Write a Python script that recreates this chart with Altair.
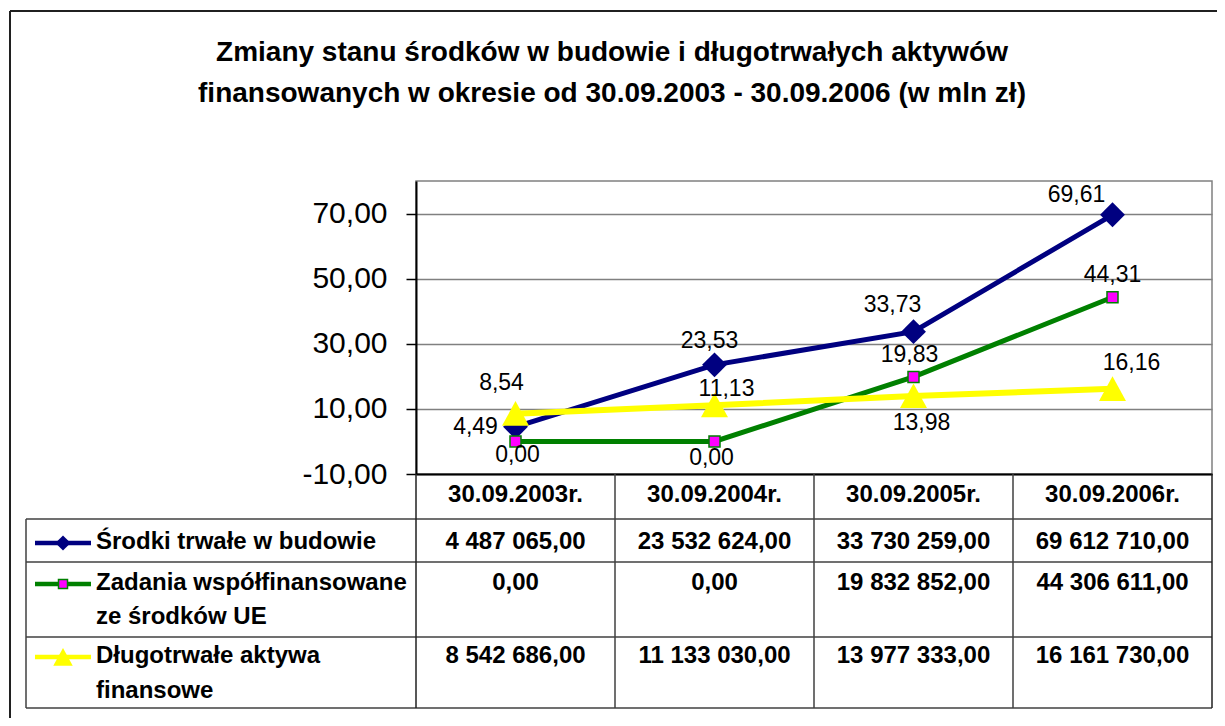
import altair as alt
import pandas as pd

# ---------------- data ----------------
title_lines = [
    "Zmiany stanu środków w budowie i długotrwałych aktywów",
    "finansowanych w okresie od 30.09.2003 - 30.09.2006 (w mln zł)",
]
dates = ["30.09.2003r.", "30.09.2004r.", "30.09.2005r.", "30.09.2006r."]
series_names = [
    "Środki trwałe w budowie",
    "Zadania współfinansowane ze środków UE",
    "Długotrwałe aktywa finansowe",
]
legend_text = [
    ["Środki trwałe w budowie"],
    ["Zadania współfinansowane", "ze środków UE"],
    ["Długotrwałe aktywa", "finansowe"],
]
srodki_trwale = [4487065.00, 23532624.00, 33730259.00, 69612710.00]
zadania_ue = [0.00, 0.00, 19832852.00, 44306611.00]
aktywa_fin = [8542686.00, 11133030.00, 13977333.00, 16161730.00]
y_ticks = [-10, 10, 30, 50, 70]
y_domain = [-10, 80]

# ---------------- style ----------------
FONT = "Liberation Sans"
W, H = 796, 293
colors = ["#000080", "#008000", "#FFFF00"]
line_widths = [5, 5, 6]
# label offsets (pixels) relative to each point
label_dx = [[-40, -5, -21, -36], [2, -3, -4, 0], [-14, 12, 8, 19]]
label_dy = [[0, -24, -27, -20], [14, 17, -22, -22], [-31, -16, 27, -26]]
row_y = [[361], [402, 436], [475, 510]]
header_y = 314
TABLE_COLOR = "#404040"

px_per_x = W / 4.0
px_per_y = H / float(y_domain[1] - y_domain[0])

values_all = [srodki_trwale, zadania_ue, aktywa_fin]
rows = []
for s, (name, vals) in enumerate(zip(series_names, values_all)):
    for i, v in enumerate(vals):
        mln = v / 1e6
        rows.append(dict(
            series=name, s=s, idx=i, value=mln,
            label=f"{mln:.2f}".replace(".", ","),
            cell=f"{v:,.2f}".replace(",", " ").replace(".", ","),
            lx=i + label_dx[s][i] / px_per_x,
            ly=mln - label_dy[s][i] / px_per_y,
        ))
df = pd.DataFrame(rows)
hdr = pd.DataFrame({"idx": list(range(len(dates))), "date": dates})
one = pd.DataFrame({"k": [0]})


def X(field):
    return alt.X(f"{field}:Q",
                 scale=alt.Scale(domain=[-0.5, len(dates) - 0.5], nice=False, zero=False),
                 axis=alt.Axis(labels=False, ticks=False, grid=False, title=None,
                               domainColor="black", domainWidth=2))


def Y(field):
    return alt.Y(f"{field}:Q",
                 scale=alt.Scale(domain=y_domain, nice=False, zero=False),
                 axis=alt.Axis(values=y_ticks,
                               labelExpr="replace(replace(format(datum.value, '.2f'), '.', ','), '\u2212', '-')",
                               labelFont=FONT, labelFontSize=30, labelColor="black",
                               labelPadding=19, tickSize=10, tickColor="black",
                               tickWidth=1.5, domainColor="black", domainWidth=2,
                               gridColor="#808080", gridWidth=1.5, title=None))


def rule(x1, y1, x2=None, y2=None, color=TABLE_COLOR, width=1.5):
    enc = dict(x=alt.value(x1), y=alt.value(y1))
    if x2 is not None:
        enc["x2"] = alt.value(x2)
    if y2 is not None:
        enc["y2"] = alt.value(y2)
    return alt.Chart(one).mark_rule(color=color, strokeWidth=width).encode(**enc)


diamond = "M0,-1L1,0L0,1L-1,0Z"
triangle = "M0,-0.93L1,0.9L-1,0.9Z"
shapes = [diamond, "square", triangle]
sizes = [620, 121, 729]
legend_sizes = [230, 81, 380]

layers = []

# outer frame (left and top edges visible)
layers.append(rule(-406, -170, x2=805, color="#202020", width=2))
layers.append(rule(-406, -170, y2=540, color="#202020", width=2))

# title
for t, ty in zip(title_lines, [-120, -79]):
    layers.append(alt.Chart(one).mark_text(font=FONT, fontSize=28, fontWeight="bold",
                                           align="center", baseline="alphabetic",
                                           color="black").encode(
        x=alt.value(196), y=alt.value(ty), text=alt.value(t)))

# table grid
table_left = -390
for yy in [338, 381, 456, 527]:
    layers.append(rule(table_left, yy, x2=W))
layers.append(rule(table_left, 338, y2=527))
for k in range(len(dates) + 1):
    layers.append(rule(k * px_per_x, H, y2=527, color=TABLE_COLOR if 0 < k < len(dates) else "#202020"))

# series lines, markers
for s in range(3):
    sub = alt.Chart(df).transform_filter(alt.datum.s == s)
    layers.append(sub.mark_line(color=colors[s], strokeWidth=line_widths[s]).encode(
        x=X("idx"), y=Y("value"), order="idx:Q"))
    if s == 1:
        mk = sub.mark_point(shape="square", size=sizes[s], filled=True, fill="#FF00FF",
                            stroke="#008000", strokeWidth=1.5, opacity=1)
    else:
        mk = sub.mark_point(shape=shapes[s], size=sizes[s], filled=True,
                            color=colors[s], opacity=1)
    layers.append(mk.encode(x=X("idx"), y=Y("value")))

# data labels
layers.append(alt.Chart(df).mark_text(font=FONT, fontSize=23, color="black",
                                      align="center", baseline="middle").encode(
    x=X("lx"), y=Y("ly"), text="label:N"))

# table header (dates)
layers.append(alt.Chart(hdr).mark_text(font=FONT, fontSize=24, fontWeight="bold",
                                       color="black", align="center",
                                       baseline="middle").encode(
    x=X("idx"), y=alt.value(header_y), text="date:N"))

# table cells + legend
for s in range(3):
    sub = alt.Chart(df).transform_filter(alt.datum.s == s)
    layers.append(sub.mark_text(font=FONT, fontSize=24, fontWeight="bold", color="black",
                                align="center", baseline="middle").encode(
        x=X("idx"), y=alt.value(row_y[s][0]), text="cell:N"))
    ly0 = row_y[s][0] + 1
    layers.append(rule(-381, ly0, x2=-325, color=colors[s], width=4.5))
    if s == 1:
        lm = alt.Chart(one).mark_point(shape="square", size=legend_sizes[s], filled=True,
                                       fill="#FF00FF", stroke="#008000", strokeWidth=1.5,
                                       opacity=1)
    else:
        lm = alt.Chart(one).mark_point(shape=shapes[s], size=legend_sizes[s], filled=True,
                                       color=colors[s], opacity=1)
    layers.append(lm.encode(x=alt.value(-353), y=alt.value(ly0)))
    for line, yy in zip(legend_text[s], row_y[s]):
        layers.append(alt.Chart(one).mark_text(font=FONT, fontSize=24, fontWeight="bold",
                                               color="black", align="left",
                                               baseline="middle").encode(
            x=alt.value(-320), y=alt.value(yy), text=alt.value(line)))

chart = alt.layer(*layers).properties(
    width=W, height=H, autosize="none",
    padding={"left": 408, "top": 173, "right": 5, "bottom": 244},
    background="white",
).configure_view(stroke="#808080", strokeWidth=1.5)

chart.save("out.html", embed_options={"renderer": "svg", "actions": False})
